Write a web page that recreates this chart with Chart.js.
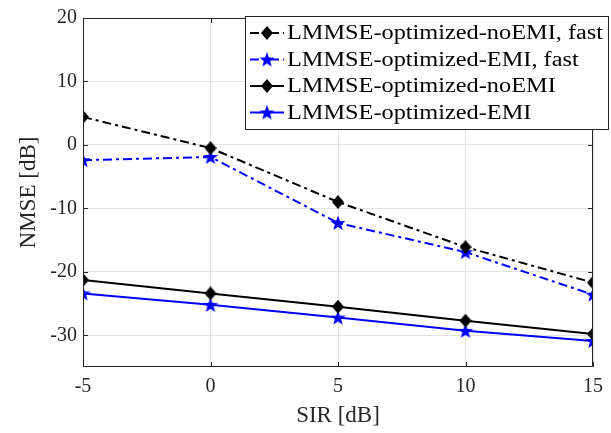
<!DOCTYPE html>
<html>
<head>
<meta charset="utf-8">
<script src="https://cdn.jsdelivr.net/npm/chart.js@4"></script>
<style>
  html, body { margin: 0; padding: 0; background: #fff; }
  #wrap { width: 611px; height: 433px; }
</style>
</head>
<body>
<div id="wrap"><canvas id="nmseChart" width="611" height="433"></canvas></div>
<script>
// data
const sirValues = [-5, 0, 5, 10, 15];
const noEmiFast = [4.4, -0.5, -9.0, -16.1, -21.7];
const emiFast = [-2.4, -1.9, -12.3, -16.9, -23.6];
const noEmi = [-21.3, -23.4, -25.5, -27.7, -29.8];
const emi = [-23.4, -25.2, -27.2, -29.3, -30.9];
const yTicks = [-30, -20, -10, 0, 10, 20];
const xTicks = [-5, 0, 5, 10, 15];
const seriesNames = [
  "LMMSE-optimized-noEMI, fast",
  "LMMSE-optimized-EMI, fast",
  "LMMSE-optimized-noEMI",
  "LMMSE-optimized-EMI"
];

const FONT = "'Liberation Serif', 'Times New Roman', serif";

// filled marker images
function diamondMarker() {
  const c = document.createElement("canvas");
  c.width = 12; c.height = 14;
  const g = c.getContext("2d");
  g.fillStyle = "#000";
  g.beginPath();
  g.moveTo(6, 0); g.lineTo(12, 7); g.lineTo(6, 14); g.lineTo(0, 7);
  g.closePath();
  g.fill();
  return c;
}
function starMarker() {
  const c = document.createElement("canvas");
  c.width = 16; c.height = 16;
  const g = c.getContext("2d");
  g.fillStyle = "#0000ff";
  g.beginPath();
  for (let i = 0; i < 10; i++) {
    const r = i % 2 === 0 ? 8 : 3.3;
    const a = -Math.PI / 2 + i * Math.PI / 5;
    const px = 8 + r * Math.cos(a), py = 8.6 + r * Math.sin(a);
    if (i === 0) g.moveTo(px, py); else g.lineTo(px, py);
  }
  g.closePath();
  g.fill();
  return c;
}
const diamond = diamondMarker();
const star = starMarker();
const dashDot = [9, 4, 3, 4];

function toPoints(ys) {
  return sirValues.map((x, i) => ({ x: x, y: ys[i] }));
}

function makeSet(label, ys, color, marker, dash) {
  return {
    label: label,
    data: toPoints(ys),
    borderColor: color,
    backgroundColor: color,
    borderWidth: 2,
    borderDash: dash,
    pointStyle: marker,
    pointRadius: 7,
    pointHoverRadius: 7,
    tension: 0
  };
}

// box, inward ticks and legend drawn on top
const frameAndLegend = {
  id: "frameAndLegend",
  afterDatasetsDraw(chart) {
    const ctx = chart.ctx;
    const a = chart.chartArea;
    const xs = chart.scales.x, ys = chart.scales.y;
    ctx.save();
    ctx.strokeStyle = "#262626";
    ctx.lineWidth = 1;
    ctx.beginPath();
    ctx.moveTo(a.left + 0.5, a.top + 0.5);
    ctx.lineTo(a.right - 0.5, a.top + 0.5);
    ctx.lineTo(a.right - 0.5, a.bottom - 0.5);
    ctx.lineTo(a.left + 0.5, a.bottom - 0.5);
    ctx.closePath();
    ctx.stroke();
    ctx.beginPath();
    xTicks.forEach(t => {
      const px = Math.round(xs.getPixelForValue(t)) + 0.5;
      ctx.moveTo(px, a.bottom); ctx.lineTo(px, a.bottom - 5);
      ctx.moveTo(px, a.top); ctx.lineTo(px, a.top + 5);
    });
    yTicks.forEach(t => {
      const py = Math.round(ys.getPixelForValue(t)) + 0.5;
      ctx.moveTo(a.left, py); ctx.lineTo(a.left + 5, py);
      ctx.moveTo(a.right, py); ctx.lineTo(a.right - 5, py);
    });
    ctx.stroke();

    // legend
    const bx = 245.5, by = 16.5, bw = 363, bh = 113;
    ctx.fillStyle = "#fff";
    ctx.fillRect(bx, by, bw, bh);
    ctx.strokeStyle = "#262626";
    ctx.strokeRect(bx, by, bw, bh);
    ctx.font = "20px " + FONT;
    ctx.textBaseline = "middle";
    // stretch text so the longest entry fills the box like the original
    const widest = Math.max(...chart.data.datasets.map(d => ctx.measureText(d.label).width));
    const sx = 316 / widest;
    chart.data.datasets.forEach((ds, i) => {
      const ry = 33 + i * 26.5;
      ctx.strokeStyle = ds.borderColor;
      ctx.lineWidth = 2;
      ctx.setLineDash(ds.borderDash || []);
      ctx.beginPath();
      ctx.moveTo(250, ry); ctx.lineTo(284, ry);
      ctx.stroke();
      ctx.setLineDash([]);
      const m = ds.pointStyle;
      ctx.drawImage(m, 267 - m.width / 2, ry - m.height / 2);
      ctx.fillStyle = "#000";
      ctx.save();
      ctx.translate(287, ry + 1);
      ctx.scale(sx, 1);
      ctx.fillText(ds.label, 0, 0);
      ctx.restore();
    });
    ctx.restore();
  }
};

new Chart(document.getElementById("nmseChart"), {
  type: "line",
  data: {
    datasets: [
      makeSet(seriesNames[0], noEmiFast, "#000000", diamond, dashDot),
      makeSet(seriesNames[1], emiFast, "#0000ff", star, dashDot),
      makeSet(seriesNames[2], noEmi, "#000000", diamond, []),
      makeSet(seriesNames[3], emi, "#0000ff", star, [])
    ]
  },
  options: {
    responsive: false,
    animation: false,
    devicePixelRatio: 1,
    layout: { padding: { left: 0, right: 13, top: 18, bottom: 0 } },
    plugins: {
      legend: { display: false },
      tooltip: { enabled: false }
    },
    scales: {
      x: {
        type: "linear",
        min: -5,
        max: 15,
        afterBuildTicks: s => { s.ticks = xTicks.map(v => ({ value: v })); },
        afterFit: s => { s.height = 66; },
        grid: { color: "#e3e3e3", tickLength: 0, drawTicks: false },
        border: { display: false },
        ticks: {
          color: "#262626",
          padding: 8,
          maxRotation: 0,
          font: { family: FONT, size: 20 }
        },
        title: {
          display: true,
          text: "SIR [dB]",
          color: "#262626",
          padding: { top: 0, bottom: 3 },
          font: { family: FONT, size: 23 }
        }
      },
      y: {
        type: "linear",
        min: -35,
        max: 20,
        afterBuildTicks: s => { s.ticks = yTicks.map(v => ({ value: v })); },
        afterFit: s => { s.width = 83; },
        grid: { color: "#e3e3e3", tickLength: 0, drawTicks: false },
        border: { display: false },
        ticks: {
          color: "#262626",
          padding: 6,
          font: { family: FONT, size: 20 }
        },
        title: {
          display: true,
          text: "NMSE [dB]",
          color: "#262626",
          padding: { top: 15, bottom: 0 },
          font: { family: FONT, size: 23 }
        }
      }
    }
  },
  plugins: [frameAndLegend]
});
</script>
</body>
</html>
